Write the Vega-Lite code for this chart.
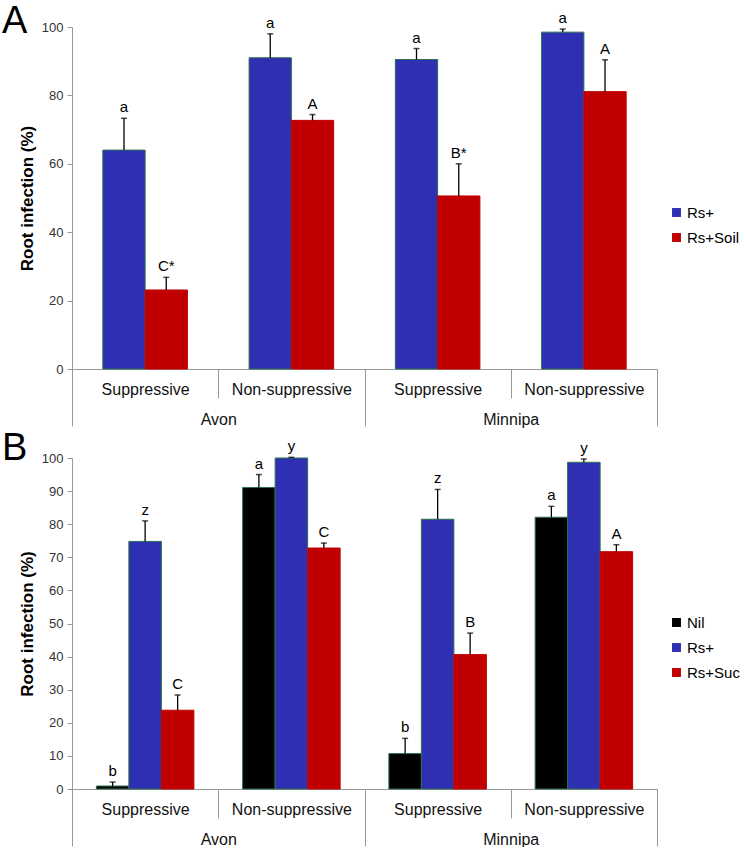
{
  "$schema": "https://vega.github.io/schema/vega-lite/v6.json",
  "padding": {"left": 2, "top": 3, "right": 5, "bottom": 0},
  "background": "white",
  "config": {
    "font": "Liberation Sans",
    "view": {"stroke": null},
    "axis": {"grid": false, "domainColor": "#999999", "tickColor": "#999999", "labelColor": "#333333", "labelFont": "Liberation Sans", "titleFont": "Liberation Sans"},
    "legend": {"labelFont": "Liberation Sans"}
  },
  "datasets": {
    "a": [
      {"site": "Avon", "group": "Avon|Suppressive", "series": "Rs+", "value": 64.0, "err": 73.3, "letter": "a"},
      {"site": "Avon", "group": "Avon|Suppressive", "series": "Rs+Soil", "value": 23.1, "err": 26.8, "letter": "C*"},
      {"site": "Avon", "group": "Avon|Non-suppressive", "series": "Rs+", "value": 91.0, "err": 98.0, "letter": "a"},
      {"site": "Avon", "group": "Avon|Non-suppressive", "series": "Rs+Soil", "value": 72.7, "err": 74.4, "letter": "A"},
      {"site": "Minnipa", "group": "Minnipa|Suppressive", "series": "Rs+", "value": 90.5, "err": 93.7, "letter": "a"},
      {"site": "Minnipa", "group": "Minnipa|Suppressive", "series": "Rs+Soil", "value": 50.6, "err": 60.0, "letter": "B*"},
      {"site": "Minnipa", "group": "Minnipa|Non-suppressive", "series": "Rs+", "value": 98.5, "err": 99.4, "letter": "a"},
      {"site": "Minnipa", "group": "Minnipa|Non-suppressive", "series": "Rs+Soil", "value": 81.1, "err": 90.4, "letter": "A"}
    ],
    "b": [
      {"site": "Avon", "group": "Avon|Suppressive", "series": "Nil", "value": 0.9, "err": 2.1, "letter": "b"},
      {"site": "Avon", "group": "Avon|Suppressive", "series": "Rs+", "value": 74.8, "err": 81.0, "letter": "z"},
      {"site": "Avon", "group": "Avon|Suppressive", "series": "Rs+Suc", "value": 23.8, "err": 28.4, "letter": "C"},
      {"site": "Avon", "group": "Avon|Non-suppressive", "series": "Nil", "value": 91.1, "err": 95.0, "letter": "a"},
      {"site": "Avon", "group": "Avon|Non-suppressive", "series": "Rs+", "value": 100.0, "err": 100.2, "letter": "y"},
      {"site": "Avon", "group": "Avon|Non-suppressive", "series": "Rs+Suc", "value": 72.8, "err": 74.3, "letter": "C"},
      {"site": "Minnipa", "group": "Minnipa|Suppressive", "series": "Nil", "value": 10.7, "err": 15.3, "letter": "b"},
      {"site": "Minnipa", "group": "Minnipa|Suppressive", "series": "Rs+", "value": 81.5, "err": 90.5, "letter": "z"},
      {"site": "Minnipa", "group": "Minnipa|Suppressive", "series": "Rs+Suc", "value": 40.6, "err": 47.1, "letter": "B"},
      {"site": "Minnipa", "group": "Minnipa|Non-suppressive", "series": "Nil", "value": 82.1, "err": 85.4, "letter": "a"},
      {"site": "Minnipa", "group": "Minnipa|Non-suppressive", "series": "Rs+", "value": 98.7, "err": 99.7, "letter": "y"},
      {"site": "Minnipa", "group": "Minnipa|Non-suppressive", "series": "Rs+Suc", "value": 71.7, "err": 73.8, "letter": "A"}
    ]
  },
  "spacing": 3,
  "resolve": {"scale": {"color": "independent", "x": "independent", "y": "independent", "xOffset": "independent"}, "legend": {"color": "independent"}},
  "vconcat": [
    {
      "width": 585,
      "height": 342,
      "title": {"text": "A", "anchor": "start", "frame": "group", "fontSize": 38, "fontWeight": "normal", "color": "black", "dx": -70, "dy": 30, "offset": 0},
      "data": {"name": "a"},
      "resolve": {"scale": {"x": "independent"}, "axis": {"x": "independent"}},
      "layer": [
        {
          "encoding": {
            "x": {"field": "group", "type": "nominal", "sort": null,
                  "scale": {"domain": ["Avon|Suppressive", "Avon|Non-suppressive", "Minnipa|Suppressive", "Minnipa|Non-suppressive"], "paddingInner": 0, "paddingOuter": 0},
                  "axis": {"orient": "bottom", "title": null, "labelAngle": 0, "labelExpr": "split(datum.value, '|')[1]", "tickBand": "extent", "tickSize": 29, "labelPadding": -17, "labelFontSize": 16, "labelColor": "#111111"}},
            "xOffset": {"field": "series", "type": "nominal", "scale": {"domain": ["Rs+", "Rs+Soil"], "paddingOuter": 0.73, "paddingInner": 0}}
          },
          "layer": [
            {
              "mark": {"type": "bar", "strokeWidth": 1},
              "encoding": {
                "y": {"field": "value", "type": "quantitative", "scale": {"domain": [0, 100], "nice": false},
                      "axis": {"values": [0, 20, 40, 60, 80, 100], "title": "Root infection (%)", "titleFontSize": 17, "titleFontWeight": "bold", "titleColor": "black", "labelFontSize": 13, "tickSize": 5, "labelPadding": 4, "titlePadding": 5}},
                "color": {"field": "series", "type": "nominal", "scale": {"domain": ["Rs+", "Rs+Soil"], "range": ["#2f2fb4", "#c00000"]},
                          "legend": {"orient": "none", "legendX": 597, "legendY": 178, "title": null, "symbolType": "square", "symbolSize": 80, "symbolStrokeWidth": 0, "labelFontSize": 15, "labelColor": "black", "rowPadding": 9, "labelOffset": 3}},
                "stroke": {"condition": {"test": "datum.series === 'Rs+'", "value": "#2e6e50"}, "value": "#c00000"}
              }
            },
            {
              "mark": {"type": "rule", "color": "black", "strokeWidth": 1.3},
              "encoding": {"y": {"field": "value", "type": "quantitative",
                      "axis": {"values": [0, 20, 40, 60, 80, 100], "title": "Root infection (%)", "titleFontSize": 17, "titleFontWeight": "bold", "titleColor": "black", "labelFontSize": 13, "tickSize": 5, "labelPadding": 4, "titlePadding": 5}}, "y2": {"field": "err"}}
            },
            {
              "mark": {"type": "tick", "color": "black", "orient": "horizontal", "size": 6, "thickness": 1.5},
              "encoding": {"y": {"field": "err", "type": "quantitative",
                      "axis": {"values": [0, 20, 40, 60, 80, 100], "title": "Root infection (%)", "titleFontSize": 17, "titleFontWeight": "bold", "titleColor": "black", "labelFontSize": 13, "tickSize": 5, "labelPadding": 4, "titlePadding": 5}}}
            },
            {
              "mark": {"type": "text", "dy": -6, "baseline": "alphabetic", "fontSize": 15, "color": "black"},
              "encoding": {"y": {"field": "err", "type": "quantitative",
                      "axis": {"values": [0, 20, 40, 60, 80, 100], "title": "Root infection (%)", "titleFontSize": 17, "titleFontWeight": "bold", "titleColor": "black", "labelFontSize": 13, "tickSize": 5, "labelPadding": 4, "titlePadding": 5}}, "text": {"field": "letter"}}
            }
          ]
        },
        {
          "mark": {"type": "point", "opacity": 0},
          "encoding": {
            "x": {"field": "site", "type": "nominal", "sort": null,
                  "scale": {"type": "band", "domain": ["Avon", "Minnipa"], "paddingInner": 0, "paddingOuter": 0},
                  "axis": {"orient": "bottom", "title": null, "labelAngle": 0, "domain": false, "tickBand": "extent", "tickSize": 57, "labelPadding": -15, "labelFontSize": 16, "labelColor": "#111111"}}
          }
        }
      ]
    },
    {
      "width": 585,
      "height": 331,
      "title": {"text": "B", "anchor": "start", "frame": "group", "fontSize": 38, "fontWeight": "normal", "color": "black", "dx": -70, "dy": 29, "offset": 0},
      "data": {"name": "b"},
      "resolve": {"scale": {"x": "independent"}, "axis": {"x": "independent"}},
      "layer": [
        {
          "encoding": {
            "x": {"field": "group", "type": "nominal", "sort": null,
                  "scale": {"domain": ["Avon|Suppressive", "Avon|Non-suppressive", "Minnipa|Suppressive", "Minnipa|Non-suppressive"], "paddingInner": 0, "paddingOuter": 0},
                  "axis": {"orient": "bottom", "title": null, "labelAngle": 0, "labelExpr": "split(datum.value, '|')[1]", "tickBand": "extent", "tickSize": 29, "labelPadding": -17, "labelFontSize": 16, "labelColor": "#111111"}},
            "xOffset": {"field": "series", "type": "nominal", "scale": {"domain": ["Nil", "Rs+", "Rs+Suc"], "paddingOuter": 0.75, "paddingInner": 0}}
          },
          "layer": [
            {
              "mark": {"type": "bar", "strokeWidth": 1},
              "encoding": {
                "y": {"field": "value", "type": "quantitative", "scale": {"domain": [0, 100], "nice": false},
                      "axis": {"values": [0, 10, 20, 30, 40, 50, 60, 70, 80, 90, 100], "title": "Root infection (%)", "titleFontSize": 17, "titleFontWeight": "bold", "titleColor": "black", "labelFontSize": 13, "tickSize": 5, "labelPadding": 4, "titlePadding": 5}},
                "color": {"field": "series", "type": "nominal", "scale": {"domain": ["Nil", "Rs+", "Rs+Suc"], "range": ["#000000", "#2f2fb4", "#c00000"]},
                          "legend": {"orient": "none", "legendX": 597, "legendY": 157, "title": null, "symbolType": "square", "symbolSize": 80, "symbolStrokeWidth": 0, "labelFontSize": 15, "labelColor": "black", "rowPadding": 9, "labelOffset": 3}},
                "stroke": {"condition": {"test": "datum.series !== 'Rs+Suc'", "value": "#2e6e50"}, "value": "#c00000"}
              }
            },
            {
              "mark": {"type": "rule", "color": "black", "strokeWidth": 1.3},
              "encoding": {"y": {"field": "value", "type": "quantitative",
                      "axis": {"values": [0, 10, 20, 30, 40, 50, 60, 70, 80, 90, 100], "title": "Root infection (%)", "titleFontSize": 17, "titleFontWeight": "bold", "titleColor": "black", "labelFontSize": 13, "tickSize": 5, "labelPadding": 4, "titlePadding": 5}}, "y2": {"field": "err"}}
            },
            {
              "mark": {"type": "tick", "color": "black", "orient": "horizontal", "size": 6, "thickness": 1.5},
              "encoding": {"y": {"field": "err", "type": "quantitative",
                      "axis": {"values": [0, 10, 20, 30, 40, 50, 60, 70, 80, 90, 100], "title": "Root infection (%)", "titleFontSize": 17, "titleFontWeight": "bold", "titleColor": "black", "labelFontSize": 13, "tickSize": 5, "labelPadding": 4, "titlePadding": 5}}}
            },
            {
              "mark": {"type": "text", "dy": -6, "baseline": "alphabetic", "fontSize": 15, "color": "black"},
              "encoding": {"y": {"field": "err", "type": "quantitative",
                      "axis": {"values": [0, 10, 20, 30, 40, 50, 60, 70, 80, 90, 100], "title": "Root infection (%)", "titleFontSize": 17, "titleFontWeight": "bold", "titleColor": "black", "labelFontSize": 13, "tickSize": 5, "labelPadding": 4, "titlePadding": 5}}, "text": {"field": "letter"}}
            }
          ]
        },
        {
          "mark": {"type": "point", "opacity": 0},
          "encoding": {
            "x": {"field": "site", "type": "nominal", "sort": null,
                  "scale": {"type": "band", "domain": ["Avon", "Minnipa"], "paddingInner": 0, "paddingOuter": 0},
                  "axis": {"orient": "bottom", "title": null, "labelAngle": 0, "domain": false, "tickBand": "extent", "tickSize": 57, "labelPadding": -15, "labelFontSize": 16, "labelColor": "#111111"}}
          }
        }
      ]
    }
  ]
}
